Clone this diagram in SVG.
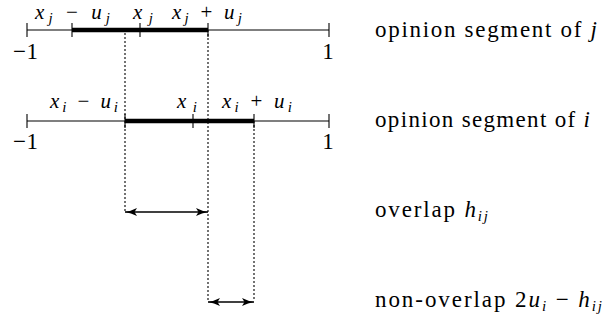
<svg xmlns="http://www.w3.org/2000/svg" width="604" height="322" viewBox="0 0 604 322">
<style>
text{font-size:23px;fill:#000}
.m{font-size:21px}
.it{font-style:italic}
.sub{font-style:italic;font-size:15px}
.axis{stroke:#000;stroke-width:1.1;fill:none}
.seg{stroke:#000;stroke-width:4.5;fill:none}
.tick{stroke:#000;stroke-width:1.1}
.dot{stroke:#000;stroke-width:1.1;stroke-dasharray:2 2;fill:none}
.arr{stroke:#000;stroke-width:1.3;fill:none;marker-start:url(#ah);marker-end:url(#ah)}
</style>
<defs>
<marker id="ah" markerUnits="userSpaceOnUse" markerWidth="13" markerHeight="9" refX="12" refY="4.5" orient="auto-start-reverse" viewBox="0 0 13 9">
<path d="M0,0.5 Q6,3.6 12,4.5 Q6,5.4 0,8.5 L2.5,4.5 Z" fill="#000"/>
</marker>
</defs>
<g font-family="Liberation Serif, DejaVu Serif, serif">
<g id="axis-j">
<line class="axis" x1="27" y1="30" x2="329" y2="30"/>
<line class="seg" x1="72" y1="30" x2="208" y2="30"/>
<line class="tick" x1="27" y1="23" x2="27" y2="37"/>
<line class="tick" x1="329" y1="23" x2="329" y2="37"/>
<line class="tick" x1="72" y1="23" x2="72" y2="37"/>
<line class="tick" x1="140" y1="23" x2="140" y2="37"/>
<line class="tick" x1="208" y1="23" x2="208" y2="37"/>
<text class="m" x="35" y="19" textLength="75"><tspan class="it">x</tspan><tspan class="sub" dy="4">j</tspan><tspan dy="-4"> − </tspan><tspan class="it">u</tspan><tspan class="sub" dy="4">j</tspan></text>
<text class="m" x="133" y="19" textLength="20"><tspan class="it">x</tspan><tspan class="sub" dy="4">j</tspan></text>
<text class="m" x="172" y="19" textLength="70"><tspan class="it">x</tspan><tspan class="sub" dy="4">j</tspan><tspan dy="-4"> + </tspan><tspan class="it">u</tspan><tspan class="sub" dy="4">j</tspan></text>
<text x="13" y="59" textLength="25">−1</text>
<text x="328" y="59" text-anchor="middle">1</text>
</g>

<g id="axis-i">
<line class="axis" x1="27" y1="121" x2="329" y2="121"/>
<line class="seg" x1="125" y1="121" x2="254" y2="121"/>
<line class="tick" x1="27" y1="114" x2="27" y2="128"/>
<line class="tick" x1="329" y1="114" x2="329" y2="128"/>
<line class="tick" x1="125" y1="114" x2="125" y2="128"/>
<line class="tick" x1="193" y1="114" x2="193" y2="128"/>
<line class="tick" x1="254" y1="114" x2="254" y2="128"/>
<text class="m" x="50" y="108" textLength="68"><tspan class="it">x</tspan><tspan class="sub" dy="4">i</tspan><tspan dy="-4"> − </tspan><tspan class="it">u</tspan><tspan class="sub" dy="4">i</tspan></text>
<text class="m" x="177" y="108" textLength="20"><tspan class="it">x</tspan><tspan class="sub" dy="4">i</tspan></text>
<text class="m" x="222" y="108" textLength="70"><tspan class="it">x</tspan><tspan class="sub" dy="4">i</tspan><tspan dy="-4"> + </tspan><tspan class="it">u</tspan><tspan class="sub" dy="4">i</tspan></text>
<text x="13" y="149" textLength="25">−1</text>
<text x="328" y="149" text-anchor="middle">1</text>
</g>

<g id="labels">
<text x="375" y="37" textLength="222">opinion segment of <tspan class="it">j</tspan></text>
<text x="375" y="127" textLength="215">opinion segment of <tspan class="it">i</tspan></text>
<text x="375" y="217" textLength="113">overlap <tspan class="it">h</tspan><tspan class="sub" dy="4">ij</tspan></text>
<text x="375" y="307" textLength="227">non-overlap 2<tspan class="it">u</tspan><tspan class="sub" dy="4">i</tspan><tspan dy="-4"> − </tspan><tspan class="it">h</tspan><tspan class="sub" dy="4">ij</tspan></text>
</g>

<g id="connectors">
<line class="dot" x1="125" y1="33" x2="125" y2="211"/>
<line class="dot" x1="208" y1="30" x2="208" y2="300"/>
<line class="dot" x1="254" y1="121" x2="254" y2="300"/>
<line class="arr" x1="125" y1="212" x2="208" y2="212"/>
<line class="arr" x1="208" y1="302" x2="254" y2="302"/>
</g>
</g>
</svg>
